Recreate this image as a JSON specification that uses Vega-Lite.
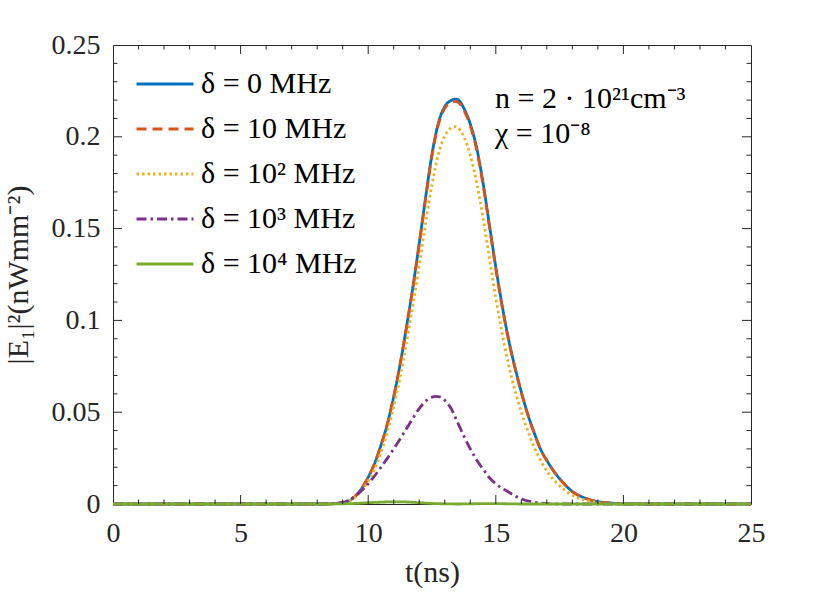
{
  "$schema": "https://vega.github.io/schema/vega-lite/v6.json",
  "width": 638,
  "height": 459,
  "autosize": {"type": "none"},
  "padding": {"left": 113, "top": 45, "right": 79, "bottom": 94},
  "background": "white",
  "config": {
    "view": {"stroke": "#262626", "strokeWidth": 1},
    "font": "Liberation Serif",
    "axis": {
      "labelFont": "Liberation Serif",
      "titleFont": "Liberation Serif",
      "labelFontSize": 28,
      "titleFontSize": 30,
      "titleFontWeight": "normal",
      "labelColor": "#262626",
      "titleColor": "#262626",
      "domain": false,
      "ticks": false,
      "grid": false
    }
  },
  "resolve": {"axis": {"x": "independent", "y": "independent"}},
  "datasets": {
    "notes": [
      {"label": "n = 2 · 10²¹cm⁻³", "t": 14.97, "v": 0.2205},
      {"label": "χ = 10⁻⁸", "t": 14.97, "v": 0.2015}
    ],
    "xmajor": [{"p": 5}, {"p": 10}, {"p": 15}, {"p": 20}],
    "xminor": [{"p": 1}, {"p": 2}, {"p": 3}, {"p": 4}, {"p": 6}, {"p": 7}, {"p": 8}, {"p": 9}, {"p": 11}, {"p": 12}, {"p": 13}, {"p": 14}, {"p": 16}, {"p": 17}, {"p": 18}, {"p": 19}, {"p": 21}, {"p": 22}, {"p": 23}, {"p": 24}],
    "ymajor": [{"p": 0.05}, {"p": 0.1}, {"p": 0.15}, {"p": 0.2}],
    "yminor": [{"p": 0.01}, {"p": 0.02}, {"p": 0.03}, {"p": 0.04}, {"p": 0.06}, {"p": 0.07}, {"p": 0.08}, {"p": 0.09}, {"p": 0.11}, {"p": 0.12}, {"p": 0.13}, {"p": 0.14}, {"p": 0.16}, {"p": 0.17}, {"p": 0.18}, {"p": 0.19}, {"p": 0.21}, {"p": 0.22}, {"p": 0.23}, {"p": 0.24}]
  },
  "layer": [
    {
      "data": {
        "values": [
          {"s": "δ = 0 MHz", "t": 0, "v": 0},
          {"s": "δ = 0 MHz", "t": 5, "v": 0},
          {"s": "δ = 0 MHz", "t": 8, "v": 0},
          {"s": "δ = 0 MHz", "t": 8.5, "v": 0.0001},
          {"s": "δ = 0 MHz", "t": 9, "v": 0.0006},
          {"s": "δ = 0 MHz", "t": 9.5, "v": 0.0043},
          {"s": "δ = 0 MHz", "t": 10, "v": 0.0145},
          {"s": "δ = 0 MHz", "t": 10.25, "v": 0.022},
          {"s": "δ = 0 MHz", "t": 10.5, "v": 0.032},
          {"s": "δ = 0 MHz", "t": 10.75, "v": 0.0435},
          {"s": "δ = 0 MHz", "t": 11, "v": 0.0585},
          {"s": "δ = 0 MHz", "t": 11.25, "v": 0.076},
          {"s": "δ = 0 MHz", "t": 11.5, "v": 0.0964},
          {"s": "δ = 0 MHz", "t": 11.75, "v": 0.118},
          {"s": "δ = 0 MHz", "t": 12, "v": 0.142},
          {"s": "δ = 0 MHz", "t": 12.25, "v": 0.167},
          {"s": "δ = 0 MHz", "t": 12.5, "v": 0.1905},
          {"s": "δ = 0 MHz", "t": 12.75, "v": 0.2075},
          {"s": "δ = 0 MHz", "t": 13, "v": 0.2165},
          {"s": "δ = 0 MHz", "t": 13.25, "v": 0.2198},
          {"s": "δ = 0 MHz", "t": 13.4, "v": 0.2205},
          {"s": "δ = 0 MHz", "t": 13.5, "v": 0.2203},
          {"s": "δ = 0 MHz", "t": 13.75, "v": 0.2155},
          {"s": "δ = 0 MHz", "t": 14, "v": 0.207},
          {"s": "δ = 0 MHz", "t": 14.25, "v": 0.194},
          {"s": "δ = 0 MHz", "t": 14.5, "v": 0.175},
          {"s": "δ = 0 MHz", "t": 14.75, "v": 0.152},
          {"s": "δ = 0 MHz", "t": 15, "v": 0.129},
          {"s": "δ = 0 MHz", "t": 15.25, "v": 0.108},
          {"s": "δ = 0 MHz", "t": 15.5, "v": 0.0897},
          {"s": "δ = 0 MHz", "t": 15.75, "v": 0.0745},
          {"s": "δ = 0 MHz", "t": 16, "v": 0.061},
          {"s": "δ = 0 MHz", "t": 16.25, "v": 0.049},
          {"s": "δ = 0 MHz", "t": 16.5, "v": 0.039},
          {"s": "δ = 0 MHz", "t": 16.75, "v": 0.030},
          {"s": "δ = 0 MHz", "t": 17, "v": 0.0237},
          {"s": "δ = 0 MHz", "t": 17.5, "v": 0.0138},
          {"s": "δ = 0 MHz", "t": 18, "v": 0.0068},
          {"s": "δ = 0 MHz", "t": 18.5, "v": 0.0032},
          {"s": "δ = 0 MHz", "t": 19, "v": 0.0013},
          {"s": "δ = 0 MHz", "t": 19.5, "v": 0.0005},
          {"s": "δ = 0 MHz", "t": 20, "v": 0.0001},
          {"s": "δ = 0 MHz", "t": 21, "v": 0},
          {"s": "δ = 0 MHz", "t": 25, "v": 0},

          {"s": "δ = 10 MHz", "t": 0, "v": 0},
          {"s": "δ = 10 MHz", "t": 5, "v": 0},
          {"s": "δ = 10 MHz", "t": 8, "v": 0},
          {"s": "δ = 10 MHz", "t": 8.5, "v": 0.0001},
          {"s": "δ = 10 MHz", "t": 9, "v": 0.0006},
          {"s": "δ = 10 MHz", "t": 9.5, "v": 0.0043},
          {"s": "δ = 10 MHz", "t": 10, "v": 0.0145},
          {"s": "δ = 10 MHz", "t": 10.25, "v": 0.022},
          {"s": "δ = 10 MHz", "t": 10.5, "v": 0.032},
          {"s": "δ = 10 MHz", "t": 10.75, "v": 0.0435},
          {"s": "δ = 10 MHz", "t": 11, "v": 0.0584},
          {"s": "δ = 10 MHz", "t": 11.25, "v": 0.0758},
          {"s": "δ = 10 MHz", "t": 11.5, "v": 0.0961},
          {"s": "δ = 10 MHz", "t": 11.75, "v": 0.1176},
          {"s": "δ = 10 MHz", "t": 12, "v": 0.1415},
          {"s": "δ = 10 MHz", "t": 12.25, "v": 0.1663},
          {"s": "δ = 10 MHz", "t": 12.5, "v": 0.1898},
          {"s": "δ = 10 MHz", "t": 12.75, "v": 0.2066},
          {"s": "δ = 10 MHz", "t": 13, "v": 0.2155},
          {"s": "δ = 10 MHz", "t": 13.25, "v": 0.2187},
          {"s": "δ = 10 MHz", "t": 13.4, "v": 0.2193},
          {"s": "δ = 10 MHz", "t": 13.5, "v": 0.219},
          {"s": "δ = 10 MHz", "t": 13.75, "v": 0.2145},
          {"s": "δ = 10 MHz", "t": 14, "v": 0.206},
          {"s": "δ = 10 MHz", "t": 14.25, "v": 0.1930},
          {"s": "δ = 10 MHz", "t": 14.5, "v": 0.1740},
          {"s": "δ = 10 MHz", "t": 14.75, "v": 0.1512},
          {"s": "δ = 10 MHz", "t": 15, "v": 0.1283},
          {"s": "δ = 10 MHz", "t": 15.25, "v": 0.1074},
          {"s": "δ = 10 MHz", "t": 15.5, "v": 0.0892},
          {"s": "δ = 10 MHz", "t": 15.75, "v": 0.0741},
          {"s": "δ = 10 MHz", "t": 16, "v": 0.0607},
          {"s": "δ = 10 MHz", "t": 16.25, "v": 0.0488},
          {"s": "δ = 10 MHz", "t": 16.5, "v": 0.0388},
          {"s": "δ = 10 MHz", "t": 16.75, "v": 0.0299},
          {"s": "δ = 10 MHz", "t": 17, "v": 0.0236},
          {"s": "δ = 10 MHz", "t": 17.5, "v": 0.0137},
          {"s": "δ = 10 MHz", "t": 18, "v": 0.0068},
          {"s": "δ = 10 MHz", "t": 18.5, "v": 0.0032},
          {"s": "δ = 10 MHz", "t": 19, "v": 0.0013},
          {"s": "δ = 10 MHz", "t": 19.5, "v": 0.0005},
          {"s": "δ = 10 MHz", "t": 20, "v": 0.0001},
          {"s": "δ = 10 MHz", "t": 21, "v": 0},
          {"s": "δ = 10 MHz", "t": 25, "v": 0},

          {"s": "δ = 10² MHz", "t": 0, "v": 0},
          {"s": "δ = 10² MHz", "t": 5, "v": 0},
          {"s": "δ = 10² MHz", "t": 8, "v": 0},
          {"s": "δ = 10² MHz", "t": 8.5, "v": 0.0001},
          {"s": "δ = 10² MHz", "t": 9, "v": 0.0005},
          {"s": "δ = 10² MHz", "t": 9.5, "v": 0.0038},
          {"s": "δ = 10² MHz", "t": 10, "v": 0.0125},
          {"s": "δ = 10² MHz", "t": 10.25, "v": 0.019},
          {"s": "δ = 10² MHz", "t": 10.5, "v": 0.028},
          {"s": "δ = 10² MHz", "t": 10.75, "v": 0.039},
          {"s": "δ = 10² MHz", "t": 11, "v": 0.053},
          {"s": "δ = 10² MHz", "t": 11.25, "v": 0.069},
          {"s": "δ = 10² MHz", "t": 11.5, "v": 0.088},
          {"s": "δ = 10² MHz", "t": 11.75, "v": 0.108},
          {"s": "δ = 10² MHz", "t": 12, "v": 0.130},
          {"s": "δ = 10² MHz", "t": 12.25, "v": 0.153},
          {"s": "δ = 10² MHz", "t": 12.5, "v": 0.174},
          {"s": "δ = 10² MHz", "t": 12.75, "v": 0.1905},
          {"s": "δ = 10² MHz", "t": 13, "v": 0.2005},
          {"s": "δ = 10² MHz", "t": 13.25, "v": 0.2048},
          {"s": "δ = 10² MHz", "t": 13.4, "v": 0.2055},
          {"s": "δ = 10² MHz", "t": 13.5, "v": 0.205},
          {"s": "δ = 10² MHz", "t": 13.75, "v": 0.200},
          {"s": "δ = 10² MHz", "t": 14, "v": 0.190},
          {"s": "δ = 10² MHz", "t": 14.25, "v": 0.175},
          {"s": "δ = 10² MHz", "t": 14.5, "v": 0.156},
          {"s": "δ = 10² MHz", "t": 14.75, "v": 0.134},
          {"s": "δ = 10² MHz", "t": 15, "v": 0.112},
          {"s": "δ = 10² MHz", "t": 15.25, "v": 0.093},
          {"s": "δ = 10² MHz", "t": 15.5, "v": 0.076},
          {"s": "δ = 10² MHz", "t": 15.75, "v": 0.062},
          {"s": "δ = 10² MHz", "t": 16, "v": 0.050},
          {"s": "δ = 10² MHz", "t": 16.25, "v": 0.040},
          {"s": "δ = 10² MHz", "t": 16.5, "v": 0.031},
          {"s": "δ = 10² MHz", "t": 16.75, "v": 0.024},
          {"s": "δ = 10² MHz", "t": 17, "v": 0.018},
          {"s": "δ = 10² MHz", "t": 17.5, "v": 0.010},
          {"s": "δ = 10² MHz", "t": 18, "v": 0.0048},
          {"s": "δ = 10² MHz", "t": 18.5, "v": 0.0021},
          {"s": "δ = 10² MHz", "t": 19, "v": 0.0008},
          {"s": "δ = 10² MHz", "t": 19.5, "v": 0.0002},
          {"s": "δ = 10² MHz", "t": 20, "v": 0},
          {"s": "δ = 10² MHz", "t": 25, "v": 0},

          {"s": "δ = 10³ MHz", "t": 0, "v": 0},
          {"s": "δ = 10³ MHz", "t": 5, "v": 0},
          {"s": "δ = 10³ MHz", "t": 8, "v": 0},
          {"s": "δ = 10³ MHz", "t": 8.5, "v": 0.0002},
          {"s": "δ = 10³ MHz", "t": 9, "v": 0.0009},
          {"s": "δ = 10³ MHz", "t": 9.5, "v": 0.0045},
          {"s": "δ = 10³ MHz", "t": 10, "v": 0.011},
          {"s": "δ = 10³ MHz", "t": 10.5, "v": 0.020},
          {"s": "δ = 10³ MHz", "t": 11, "v": 0.030},
          {"s": "δ = 10³ MHz", "t": 11.5, "v": 0.041},
          {"s": "δ = 10³ MHz", "t": 12, "v": 0.052},
          {"s": "δ = 10³ MHz", "t": 12.25, "v": 0.056},
          {"s": "δ = 10³ MHz", "t": 12.5, "v": 0.0582},
          {"s": "δ = 10³ MHz", "t": 12.65, "v": 0.0586},
          {"s": "δ = 10³ MHz", "t": 12.8, "v": 0.0584},
          {"s": "δ = 10³ MHz", "t": 13, "v": 0.0565},
          {"s": "δ = 10³ MHz", "t": 13.25, "v": 0.052},
          {"s": "δ = 10³ MHz", "t": 13.5, "v": 0.0445},
          {"s": "δ = 10³ MHz", "t": 13.75, "v": 0.037},
          {"s": "δ = 10³ MHz", "t": 14, "v": 0.030},
          {"s": "δ = 10³ MHz", "t": 14.25, "v": 0.024},
          {"s": "δ = 10³ MHz", "t": 14.5, "v": 0.019},
          {"s": "δ = 10³ MHz", "t": 14.75, "v": 0.0143},
          {"s": "δ = 10³ MHz", "t": 15, "v": 0.011},
          {"s": "δ = 10³ MHz", "t": 15.5, "v": 0.0065},
          {"s": "δ = 10³ MHz", "t": 16, "v": 0.0028},
          {"s": "δ = 10³ MHz", "t": 16.5, "v": 0.001},
          {"s": "δ = 10³ MHz", "t": 17, "v": 0.0002},
          {"s": "δ = 10³ MHz", "t": 17.5, "v": 0},
          {"s": "δ = 10³ MHz", "t": 25, "v": 0},

          {"s": "δ = 10⁴ MHz", "t": 0, "v": 0},
          {"s": "δ = 10⁴ MHz", "t": 5, "v": 0},
          {"s": "δ = 10⁴ MHz", "t": 8.5, "v": 0},
          {"s": "δ = 10⁴ MHz", "t": 9, "v": 0.0001},
          {"s": "δ = 10⁴ MHz", "t": 9.5, "v": 0.0003},
          {"s": "δ = 10⁴ MHz", "t": 10, "v": 0.0007},
          {"s": "δ = 10⁴ MHz", "t": 10.5, "v": 0.001},
          {"s": "δ = 10⁴ MHz", "t": 11, "v": 0.0012},
          {"s": "δ = 10⁴ MHz", "t": 11.5, "v": 0.0011},
          {"s": "δ = 10⁴ MHz", "t": 12, "v": 0.0007},
          {"s": "δ = 10⁴ MHz", "t": 12.5, "v": 0.0003},
          {"s": "δ = 10⁴ MHz", "t": 13, "v": 0.0001},
          {"s": "δ = 10⁴ MHz", "t": 13.5, "v": 0},
          {"s": "δ = 10⁴ MHz", "t": 14, "v": 0.0001},
          {"s": "δ = 10⁴ MHz", "t": 14.5, "v": 0.0002},
          {"s": "δ = 10⁴ MHz", "t": 15, "v": 0.0002},
          {"s": "δ = 10⁴ MHz", "t": 15.5, "v": 0.0001},
          {"s": "δ = 10⁴ MHz", "t": 16, "v": 0},
          {"s": "δ = 10⁴ MHz", "t": 25, "v": 0}
        ]
      },
      "mark": {"type": "line", "strokeWidth": 2.8, "interpolate": "monotone"},
      "encoding": {
        "x": {
          "field": "t",
          "type": "quantitative",
          "scale": {"domain": [0, 25], "nice": false, "zero": false},
          "axis": {
            "orient": "bottom",
            "values": [0, 5, 10, 15, 20, 25],
            "ticks": false,
            "labelPadding": 15,
            "labelOverlap": false,
            "labelFlush": false,
            "title": "t(ns)",
            "titlePadding": 10
          }
        },
        "y": {
          "field": "v",
          "type": "quantitative",
          "scale": {"domain": [0, 0.25], "nice": false},
          "axis": {
            "orient": "left",
            "values": [0, 0.05, 0.1, 0.15, 0.2, 0.25],
            "format": "~g",
            "ticks": false,
            "labelPadding": 13,
            "labelOverlap": false,
            "labelFlush": false,
            "title": "|E₁|²(nWmm⁻²)",
            "titlePadding": 18
          }
        },
        "color": {
          "field": "s",
          "type": "nominal",
          "scale": {
            "domain": ["δ = 0 MHz", "δ = 10 MHz", "δ = 10² MHz", "δ = 10³ MHz", "δ = 10⁴ MHz"],
            "range": ["#0072BD", "#D95319", "#EDB120", "#7E2F8E", "#77AC30"]
          },
          "legend": {
            "title": null,
            "orient": "none",
            "legendX": 22,
            "legendY": 9,
            "symbolType": "stroke",
            "symbolSize": 3249,
            "symbolStrokeWidth": 2.8,
            "labelFontSize": 30,
            "labelFont": "Liberation Serif",
            "labelColor": "#000000",
            "labelOffset": 6,
            "rowPadding": -4.5,
            "padding": 0,
            "labelLimit": 400
          }
        },
        "strokeDash": {
          "field": "s",
          "type": "nominal",
          "scale": {
            "domain": ["δ = 0 MHz", "δ = 10 MHz", "δ = 10² MHz", "δ = 10³ MHz", "δ = 10⁴ MHz"],
            "range": [[1, 0], [10, 6], [2.5, 3], [10, 4, 2.5, 4], [1, 0]]
          },
          "legend": {
            "title": null,
            "orient": "none",
            "legendX": 22,
            "legendY": 9,
            "symbolType": "stroke",
            "symbolSize": 3249,
            "symbolStrokeWidth": 2.8,
            "labelFontSize": 30,
            "labelFont": "Liberation Serif",
            "labelColor": "#000000",
            "labelOffset": 6,
            "rowPadding": -4.5,
            "padding": 0,
            "labelLimit": 400
          }
        }
      }
    },
    {
      "data": {"name": "xmajor"},
      "mark": {"type": "rule", "color": "#262626", "strokeWidth": 1},
      "encoding": {
        "x": {"field": "p", "type": "quantitative", "axis": null},
        "y": {"datum": 0, "axis": null},
        "y2": {"datum": 0.0049}
      }
    },
    {
      "data": {"name": "xmajor"},
      "mark": {"type": "rule", "color": "#262626", "strokeWidth": 1},
      "encoding": {
        "x": {"field": "p", "type": "quantitative", "axis": null},
        "y": {"datum": 0.25, "axis": null},
        "y2": {"datum": 0.2451}
      }
    },
    {
      "data": {"name": "xminor"},
      "mark": {"type": "rule", "color": "#262626", "strokeWidth": 1},
      "encoding": {
        "x": {"field": "p", "type": "quantitative", "axis": null},
        "y": {"datum": 0, "axis": null},
        "y2": {"datum": 0.00245}
      }
    },
    {
      "data": {"name": "xminor"},
      "mark": {"type": "rule", "color": "#262626", "strokeWidth": 1},
      "encoding": {
        "x": {"field": "p", "type": "quantitative", "axis": null},
        "y": {"datum": 0.25, "axis": null},
        "y2": {"datum": 0.24755}
      }
    },
    {
      "data": {"name": "ymajor"},
      "mark": {"type": "rule", "color": "#262626", "strokeWidth": 1},
      "encoding": {
        "y": {"field": "p", "type": "quantitative", "axis": null},
        "x": {"datum": 0, "axis": null},
        "x2": {"datum": 0.353}
      }
    },
    {
      "data": {"name": "ymajor"},
      "mark": {"type": "rule", "color": "#262626", "strokeWidth": 1},
      "encoding": {
        "y": {"field": "p", "type": "quantitative", "axis": null},
        "x": {"datum": 25, "axis": null},
        "x2": {"datum": 24.647}
      }
    },
    {
      "data": {"name": "yminor"},
      "mark": {"type": "rule", "color": "#262626", "strokeWidth": 1},
      "encoding": {
        "y": {"field": "p", "type": "quantitative", "axis": null},
        "x": {"datum": 0, "axis": null},
        "x2": {"datum": 0.176}
      }
    },
    {
      "data": {"name": "yminor"},
      "mark": {"type": "rule", "color": "#262626", "strokeWidth": 1},
      "encoding": {
        "y": {"field": "p", "type": "quantitative", "axis": null},
        "x": {"datum": 25, "axis": null},
        "x2": {"datum": 24.824}
      }
    },
    {
      "data": {"name": "notes"},
      "mark": {"type": "text", "align": "left", "baseline": "middle", "fontSize": 30, "font": "Liberation Serif", "color": "#000000"},
      "encoding": {
        "x": {"field": "t", "type": "quantitative", "axis": null},
        "y": {"field": "v", "type": "quantitative", "axis": null},
        "text": {"field": "label"}
      }
    }
  ]
}
